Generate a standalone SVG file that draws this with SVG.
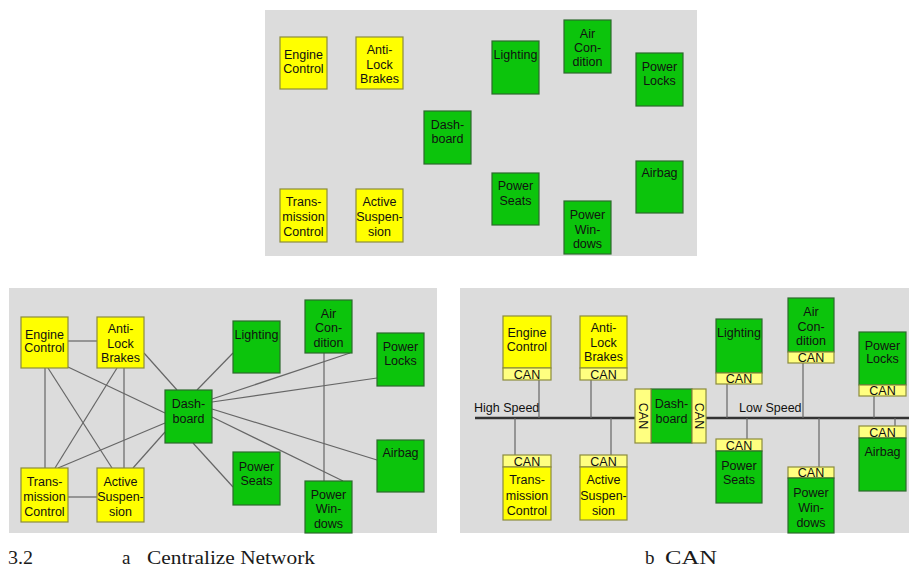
<svg xmlns="http://www.w3.org/2000/svg" width="909" height="570" viewBox="0 0 909 570">
<style>
.bg{fill:#ffffff}
.panel{fill:#dcdcdc}
.y{fill:#ffff00;stroke:#8c8c3c;stroke-width:1.2}
.g{fill:#0cc40c;stroke:#2e6a2e;stroke-width:1.2}
.c{fill:#ffff80;stroke:#8c8c3c;stroke-width:1.2}
.t{font-family:"Liberation Sans",Arial,sans-serif;font-size:12.5px;fill:#111111;text-anchor:middle}
.lbl{font-family:"Liberation Sans",Arial,sans-serif;font-size:12.5px;fill:#111111}
.cap{font-family:"Liberation Serif","Times New Roman",serif;font-size:19px;fill:#1a1a1a}
.ln{stroke:#666666;stroke-width:1.2;fill:none}
.bus{stroke:#333333;stroke-width:2.5;fill:none}
</style>
<rect class="bg" x="0" y="0" width="909" height="570"/>

<!-- Top panel -->
<g id="panel-top">
<rect class="panel" x="265" y="10" width="432" height="246"/>
</g>
<g id="top-engine"><rect class="y" x="280" y="37" width="47" height="52"/><text class="t" x="303.5" y="59">Engine</text><text class="t" x="303.5" y="73">Control</text></g>
<g id="top-abs"><rect class="y" x="356" y="37" width="47" height="52"/><text class="t" x="379.5" y="54">Anti-</text><text class="t" x="379.5" y="69">Lock</text><text class="t" x="379.5" y="83">Brakes</text></g>
<g id="top-dash"><rect class="g" x="424" y="111" width="47" height="53"/><text class="t" x="447.5" y="129">Dash-</text><text class="t" x="447.5" y="143">board</text></g>
<g id="top-lighting"><rect class="g" x="492" y="41" width="47" height="53"/><text class="t" x="515.5" y="59">Lighting</text></g>
<g id="top-trans"><rect class="y" x="280" y="189" width="47" height="53"/><text class="t" x="303.5" y="206">Trans-</text><text class="t" x="303.5" y="221">mission</text><text class="t" x="303.5" y="236">Control</text></g>
<g id="top-active"><rect class="y" x="356" y="189" width="47" height="53"/><text class="t" x="379.5" y="206">Active</text><text class="t" x="379.5" y="221">Suspen-</text><text class="t" x="379.5" y="236">sion</text></g>
<g id="top-seats"><rect class="g" x="492" y="173" width="47" height="52"/><text class="t" x="515.5" y="190">Power</text><text class="t" x="515.5" y="205">Seats</text></g>
<g id="top-aircon"><rect class="g" x="564" y="20" width="47" height="53"/><text class="t" x="587.5" y="38">Air</text><text class="t" x="587.5" y="52">Con-</text><text class="t" x="587.5" y="66">dition</text></g>
<g id="top-locks"><rect class="g" x="636" y="53" width="47" height="53"/><text class="t" x="659.5" y="71">Power</text><text class="t" x="659.5" y="85">Locks</text></g>
<g id="top-airbag"><rect class="g" x="636" y="161" width="47" height="52"/><text class="t" x="659.5" y="177">Airbag</text></g>
<g id="top-windows"><rect class="g" x="564" y="201" width="47" height="53"/><text class="t" x="587.5" y="219">Power</text><text class="t" x="587.5" y="234">Win-</text><text class="t" x="587.5" y="248">dows</text></g>

<!-- Bottom-left panel: centralized -->
<g id="panel-a"><rect class="panel" x="9" y="288" width="428" height="245"/></g>
<g id="connectors-a">
<line class="ln" x1="68" y1="341" x2="97" y2="341"/>
<line class="ln" x1="45" y1="368" x2="45" y2="468"/>
<line class="ln" x1="48" y1="368" x2="112" y2="468"/>
<line class="ln" x1="68" y1="367" x2="165" y2="413"/>
<line class="ln" x1="117" y1="368" x2="55" y2="468"/>
<line class="ln" x1="124" y1="368" x2="124" y2="468"/>
<line class="ln" x1="144" y1="353" x2="177" y2="390"/>
<line class="ln" x1="68" y1="497" x2="97" y2="497"/>
<line class="ln" x1="58" y1="468" x2="165" y2="423"/>
<line class="ln" x1="133" y1="468" x2="165" y2="432"/>
<line class="ln" x1="197" y1="390" x2="233" y2="353"/>
<line class="ln" x1="212" y1="399" x2="350" y2="353"/>
<line class="ln" x1="212" y1="402" x2="377" y2="378"/>
<line class="ln" x1="212" y1="409" x2="377" y2="460"/>
<line class="ln" x1="212" y1="417" x2="343" y2="481"/>
<line class="ln" x1="193" y1="443" x2="233" y2="487"/>
<line class="ln" x1="324" y1="353" x2="324" y2="481"/>
</g>
<g id="a-engine"><rect class="y" x="21" y="317" width="47" height="51"/><text class="t" x="44.5" y="339">Engine</text><text class="t" x="44.5" y="352">Control</text></g>
<g id="a-abs"><rect class="y" x="97" y="317" width="47" height="51"/><text class="t" x="120.5" y="333">Anti-</text><text class="t" x="120.5" y="348">Lock</text><text class="t" x="120.5" y="362">Brakes</text></g>
<g id="a-dash"><rect class="g" x="165" y="390" width="47" height="53"/><text class="t" x="188.5" y="408">Dash-</text><text class="t" x="188.5" y="423">board</text></g>
<g id="a-trans"><rect class="y" x="21" y="468" width="47" height="54"/><text class="t" x="44.5" y="486">Trans-</text><text class="t" x="44.5" y="501">mission</text><text class="t" x="44.5" y="516">Control</text></g>
<g id="a-active"><rect class="y" x="97" y="468" width="47" height="54"/><text class="t" x="120.5" y="486">Active</text><text class="t" x="120.5" y="501">Suspen-</text><text class="t" x="120.5" y="516">sion</text></g>
<g id="a-lighting"><rect class="g" x="233" y="321" width="47" height="52"/><text class="t" x="256.5" y="339">Lighting</text></g>
<g id="a-aircon"><rect class="g" x="305" y="300" width="47" height="53"/><text class="t" x="328.5" y="318">Air</text><text class="t" x="328.5" y="332">Con-</text><text class="t" x="328.5" y="347">dition</text></g>
<g id="a-locks"><rect class="g" x="377" y="333" width="47" height="53"/><text class="t" x="400.5" y="351">Power</text><text class="t" x="400.5" y="365">Locks</text></g>
<g id="a-airbag"><rect class="g" x="377" y="440" width="47" height="52"/><text class="t" x="400.5" y="457">Airbag</text></g>
<g id="a-seats"><rect class="g" x="233" y="452" width="47" height="53"/><text class="t" x="256.5" y="471">Power</text><text class="t" x="256.5" y="485">Seats</text></g>
<g id="a-windows"><rect class="g" x="305" y="481" width="47" height="52"/><text class="t" x="328.5" y="499">Power</text><text class="t" x="328.5" y="513">Win-</text><text class="t" x="328.5" y="528">dows</text></g>

<!-- Bottom-right panel: CAN -->
<g id="panel-b"><rect class="panel" x="460" y="288" width="449" height="245"/></g>
<g id="connectors-b">
<line class="bus" x1="475" y1="418" x2="635" y2="418"/>
<line class="bus" x1="706" y1="418" x2="909" y2="418"/>
<line class="ln" x1="539" y1="380" x2="539" y2="418"/>
<line class="ln" x1="591" y1="380" x2="591" y2="418"/>
<line class="ln" x1="515" y1="418" x2="515" y2="455"/>
<line class="ln" x1="611" y1="418" x2="611" y2="455"/>
<line class="ln" x1="727" y1="384" x2="727" y2="418"/>
<line class="ln" x1="803" y1="363" x2="803" y2="418"/>
<line class="ln" x1="874" y1="396" x2="874" y2="418"/>
<line class="ln" x1="747" y1="418" x2="747" y2="439"/>
<line class="ln" x1="819" y1="418" x2="819" y2="467"/>
<line class="ln" x1="895" y1="418" x2="895" y2="426"/>
</g>
<text class="lbl" x="474" y="412">High Speed</text>
<text class="lbl" x="739" y="412">Low Speed</text>
<g id="b-engine"><rect class="y" x="503" y="316" width="48" height="52"/><rect class="c" x="503" y="368" width="48" height="12"/><text class="t" x="527" y="337">Engine</text><text class="t" x="527" y="351">Control</text><text class="t" x="527" y="378.5">CAN</text></g>
<g id="b-abs"><rect class="y" x="580" y="316" width="47" height="52"/><rect class="c" x="580" y="368" width="47" height="12"/><text class="t" x="603.5" y="332">Anti-</text><text class="t" x="603.5" y="347">Lock</text><text class="t" x="603.5" y="361">Brakes</text><text class="t" x="603.5" y="378.5">CAN</text></g>
<g id="b-trans"><rect class="c" x="503" y="455" width="48" height="12"/><rect class="y" x="503" y="467" width="48" height="53"/><text class="t" x="527" y="465.5">CAN</text><text class="t" x="527" y="484">Trans-</text><text class="t" x="527" y="500">mission</text><text class="t" x="527" y="515">Control</text></g>
<g id="b-active"><rect class="c" x="580" y="455" width="47" height="12"/><rect class="y" x="580" y="467" width="47" height="53"/><text class="t" x="603.5" y="465.5">CAN</text><text class="t" x="603.5" y="484">Active</text><text class="t" x="603.5" y="500">Suspen-</text><text class="t" x="603.5" y="515">sion</text></g>
<g id="b-dash"><rect class="g" x="651" y="389" width="41" height="54"/><rect class="c" x="635" y="389" width="16" height="54"/><rect class="c" x="692" y="389" width="14" height="54"/><text class="t" x="671.5" y="408">Dash-</text><text class="t" x="671.5" y="423">board</text><text class="t" transform="translate(638.5 416) rotate(90)">CAN</text><text class="t" transform="translate(694.5 416) rotate(90)">CAN</text></g>
<g id="b-lighting"><rect class="g" x="716" y="319" width="46" height="54"/><rect class="c" x="716" y="373" width="46" height="11"/><text class="t" x="739" y="337">Lighting</text><text class="t" x="739" y="383">CAN</text></g>
<g id="b-aircon"><rect class="g" x="788" y="298" width="46" height="54"/><rect class="c" x="788" y="352" width="46" height="11"/><text class="t" x="811" y="316">Air</text><text class="t" x="811" y="331">Con-</text><text class="t" x="811" y="345">dition</text><text class="t" x="811" y="362">CAN</text></g>
<g id="b-locks"><rect class="g" x="859" y="332" width="47" height="53"/><rect class="c" x="859" y="385" width="47" height="11"/><text class="t" x="882.5" y="350">Power</text><text class="t" x="882.5" y="363">Locks</text><text class="t" x="882.5" y="395">CAN</text></g>
<g id="b-seats"><rect class="c" x="716" y="439" width="46" height="12"/><rect class="g" x="716" y="451" width="46" height="52"/><text class="t" x="739" y="449.5">CAN</text><text class="t" x="739" y="470">Power</text><text class="t" x="739" y="484">Seats</text></g>
<g id="b-windows"><rect class="c" x="788" y="467" width="46" height="11"/><rect class="g" x="788" y="478" width="46" height="55"/><text class="t" x="811" y="477">CAN</text><text class="t" x="811" y="497">Power</text><text class="t" x="811" y="512">Win-</text><text class="t" x="811" y="527">dows</text></g>
<g id="b-airbag"><rect class="c" x="859" y="426" width="47" height="12"/><rect class="g" x="859" y="438" width="47" height="53"/><text class="t" x="882.5" y="436.5">CAN</text><text class="t" x="882.5" y="456">Airbag</text></g>

<!-- Captions -->
<text class="cap" x="8" y="564" textLength="25" lengthAdjust="spacingAndGlyphs">3.2</text>
<text class="cap" x="122" y="564">a</text>
<text class="cap" x="147" y="564" textLength="168" lengthAdjust="spacingAndGlyphs">Centralize Network</text>
<text class="cap" x="645" y="564">b</text>
<text class="cap" x="665" y="564" textLength="52" lengthAdjust="spacingAndGlyphs">CAN</text>
</svg>
